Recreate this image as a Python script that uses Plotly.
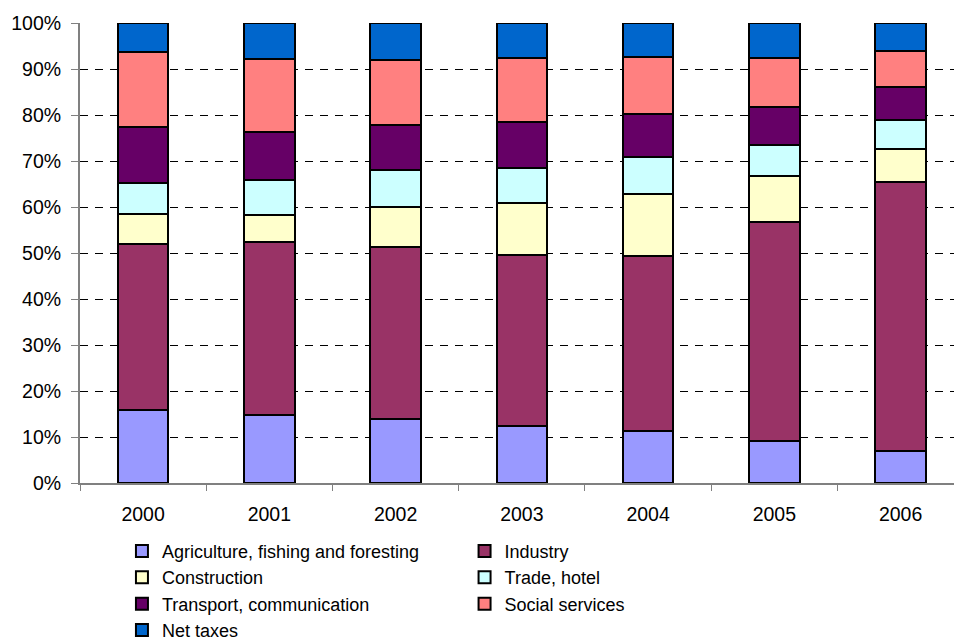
import plotly.graph_objects as go

# Share of GDP by sector, 2000-2006 (percent of total)
years = ["2000", "2001", "2002", "2003", "2004", "2005", "2006"]
agriculture = [15.9, 14.8, 13.9, 12.3, 11.4, 9.1, 7.0]
industry = [36.1, 37.6, 37.3, 37.3, 37.9, 47.6, 58.4]
construction = [6.5, 5.9, 8.9, 11.3, 13.6, 10.0, 7.3]
trade_hotel = [6.8, 7.5, 7.9, 7.5, 7.9, 6.8, 6.2]
transport = [12.1, 10.4, 9.8, 10.1, 9.5, 8.2, 7.2]
social_services = [16.4, 16.0, 14.2, 13.8, 12.4, 10.6, 7.8]
net_taxes = [6.2, 7.8, 8.0, 7.7, 7.3, 7.7, 6.1]

y_ticks = list(range(0, 101, 10))
y_labels = [f"{v}%" for v in y_ticks]

series = [
    ("Agriculture, fishing and foresting", agriculture, "#9999FF", "legend"),
    ("Industry", industry, "#993366", "legend2"),
    ("Construction", construction, "#FFFFCC", "legend"),
    ("Trade, hotel", trade_hotel, "#CCFFFF", "legend2"),
    ("Transport, communication", transport, "#660066", "legend"),
    ("Social services", social_services, "#FF8080", "legend2"),
    ("Net taxes", net_taxes, "#0066CC", "legend"),
]

FONT = "Arial, Liberation Sans, sans-serif"
TICK_SIZE = 19.5
LEGEND_SIZE = 18

fig = go.Figure()
for name, vals, color, lg in series:
    fig.add_trace(go.Bar(
        x=years, y=vals, name=name, legend=lg,
        marker=dict(color=color, line=dict(color="#000000", width=2)),
        width=0.4,
    ))

legend_common = dict(
    orientation="v", traceorder="normal", yanchor="top", xanchor="left",
    font=dict(family=FONT, size=LEGEND_SIZE, color="#000000"),
    bgcolor="rgba(0,0,0,0)", tracegroupgap=0,
)

fig.update_layout(
    width=954, height=641,
    barmode="stack", barnorm="percent",
    plot_bgcolor="white", paper_bgcolor="white",
    margin=dict(l=80, r=0, t=23, b=158, autoexpand=False),
    font=dict(family=FONT, size=LEGEND_SIZE, color="#000000"),
    showlegend=True,
    legend=dict(x=0.048, y=-0.108, **legend_common),
    legend2=dict(x=0.44, y=-0.108, **legend_common),
)

fig.update_xaxes(
    type="category", range=[-0.5, 6.423],
    showline=True, linecolor="#808080", linewidth=2,
    ticks="outside", tickson="boundaries", ticklen=6, tickcolor="#808080", tickwidth=1,
    showgrid=False, zeroline=False, ticklabelstandoff=13,
    tickfont=dict(family=FONT, size=TICK_SIZE, color="#000000"),
)
fig.update_yaxes(
    range=[0, 100], tickmode="array", tickvals=y_ticks, ticktext=y_labels,
    showline=True, linecolor="#808080", linewidth=2,
    ticks="outside", ticklen=7, tickcolor="#808080", tickwidth=1,
    showgrid=True, gridcolor="#000000", gridwidth=1, griddash="8px,7px",
    zeroline=False, ticklabelstandoff=6,
    tickfont=dict(family=FONT, size=TICK_SIZE, color="#000000"),
)

fig.write_html("out.html")
